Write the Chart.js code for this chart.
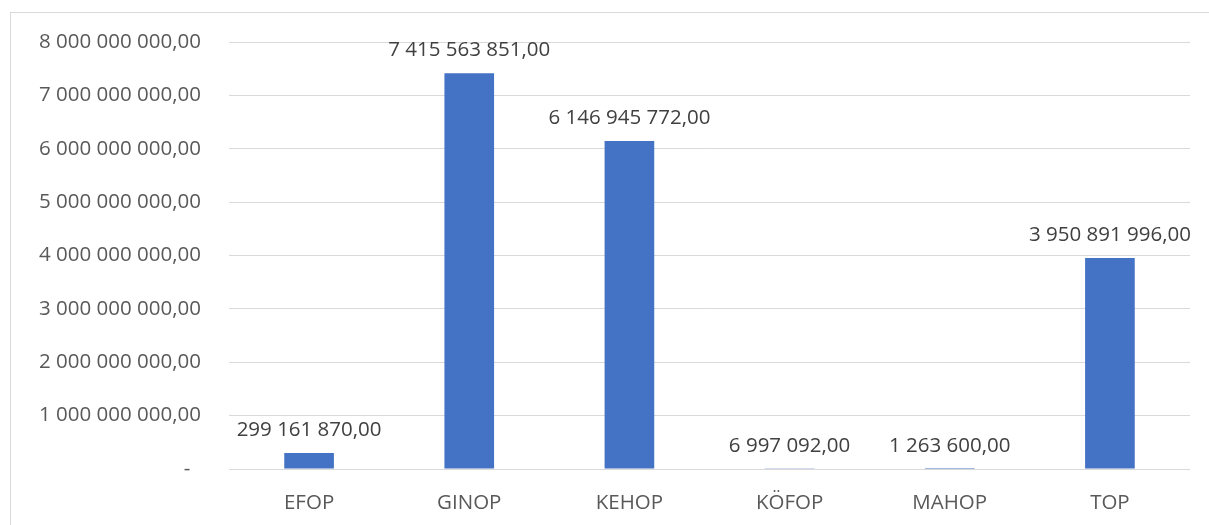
<!DOCTYPE html>
<html>
<head>
<meta charset="utf-8">
<script src="https://cdn.jsdelivr.net/npm/chart.js@4/dist/chart.umd.min.js"></script>
<style>
  html, body { margin: 0; padding: 0; background: #fff; }
  #frame { position: absolute; left: 10px; top: 12px; width: 1210px; height: 530px; border: 1px solid #d9d9d9; box-sizing: border-box; }
  #wrap { position: absolute; left: 0; top: 0; width: 1209px; height: 525px; }
</style>
</head>
<body>
<div id="frame"></div>
<div id="wrap"><canvas id="chart"></canvas></div>
<script>
// adatok
const categories = ["EFOP", "GINOP", "KEHOP", "KÖFOP", "MAHOP", "TOP"]
const amounts = [299161870, 7415563851, 6146945772, 6997092, 1263600, 3950891996]
const yTicks = [0, 1e9, 2e9, 3e9, 4e9, 5e9, 6e9, 7e9, 8e9]

function formatHu(v) {
  const whole = Math.round(v).toString().replace(/\B(?=(\d{3})+(?!\d))/g, " ")
  return whole + ",00"
}

const fontFamily = "'Open Sans', 'Noto Sans', sans-serif"
const fontSize = 20.5

const barLabels = {
  id: "barLabels",
  afterDatasetsDraw(chart) {
    const ctx = chart.ctx
    const meta = chart.getDatasetMeta(0)
    ctx.save()
    ctx.font = fontSize + "px " + fontFamily
    ctx.fillStyle = "#404040"
    ctx.textAlign = "center"
    ctx.textBaseline = "alphabetic"
    meta.data.forEach((bar, i) => {
      ctx.fillText(formatHu(amounts[i]), bar.x, bar.y - 17)
    })
    ctx.restore()
  },
}

new Chart(document.getElementById("chart"), {
  type: "bar",
  data: {
    labels: categories,
    datasets: [
      {
        data: amounts,
        backgroundColor: "#4472c4",
        categoryPercentage: 1,
        barPercentage: 0.31,
      },
    ],
  },
  options: {
    responsive: true,
    maintainAspectRatio: false,
    animation: false,
    layout: { padding: { top: 42, right: 19, left: 0, bottom: 0 } },
    plugins: { legend: { display: false }, tooltip: { enabled: false } },
    scales: {
      x: {
        grid: { display: false },
        border: { display: false },
        ticks: { color: "#595959", font: { family: fontFamily, size: fontSize }, padding: 14 },
        afterFit(scale) { scale.height = 56 },
      },
      y: {
        min: 0,
        max: 8e9,
        afterBuildTicks(scale) { scale.ticks = yTicks.map((v) => ({ value: v })) },
        grid: { color: "#d9d9d9", drawTicks: false },
        border: { display: false },
        ticks: {
          color: "#595959",
          font: { family: fontFamily, size: fontSize },
          padding: 28,
          callback: (v) => (v === 0 ? "-  " : formatHu(v)),
        },
        afterFit(scale) { scale.width = 229 },
      },
    },
  },
  plugins: [barLabels],
})
</script>
</body>
</html>
